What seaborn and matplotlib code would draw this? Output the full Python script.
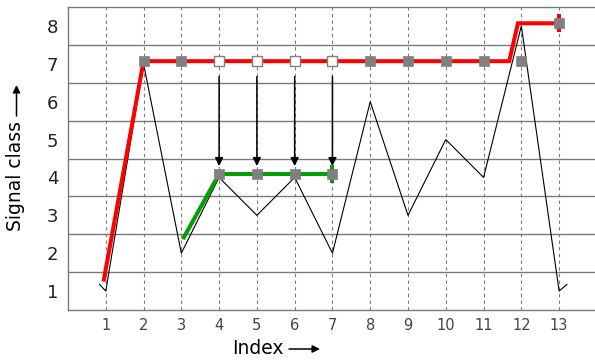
import matplotlib
matplotlib.use("Agg")
import matplotlib.pyplot as plt
import seaborn as sns

# ---- data ----
index_ticks = list(range(1, 14))
class_ticks = list(range(1, 9))

signal_x = [0.83, 1, 2, 3, 4, 5, 6, 7, 8, 9, 10, 11, 12, 13, 13.21]
signal_y = [1.18, 1, 7, 2, 4, 3, 4, 2, 6, 3, 5, 4, 8, 1, 1.18]

red_x = [0.94, 2, 11.68, 11.91, 13]
red_y = [1.25, 7.07, 7.07, 8.07, 8.07]
red_end_x = [13, 13]
red_end_y = [7.83, 8.31]

green_x = [3.04, 4, 7]
green_y = [2.37, 4.09, 4.09]
green_end_x = [7, 7]
green_end_y = [3.85, 4.33]

upper_gray_x = [2, 3, 8, 9, 10, 11, 12, 13]
upper_gray_y = [7.07, 7.07, 7.07, 7.07, 7.07, 7.07, 7.07, 8.07]
white_x = [4, 5, 6, 7]
white_y = [7.07, 7.07, 7.07, 7.07]
lower_gray_x = [4, 5, 6, 7]
lower_gray_y = [4.09, 4.09, 4.09, 4.09]
arrow_start_y = 6.66
arrow_end_y = 4.30

x_label = "Index"
y_label = "Signal class"

# ---- style ----
sns.set_theme(style="white")
plt.rcParams['font.family'] = ['DejaVu Sans']

W, H = 595, 360
fig = plt.figure(figsize=(W / 100, H / 100), dpi=100)
ax = fig.add_axes([68 / W, 50 / H, 1 - 68 / W, 303 / H])
ax.set_xlim(0, 13.95)
ax.set_ylim(0.5, 8.5)

gcol = "#7a7a7a"
ax.set_xticks(index_ticks)
ax.set_yticks(class_ticks)
ax.set_yticks([c + 0.5 for c in class_ticks[:-1]], minor=True)
ax.xaxis.grid(True, which='major', color=gcol, lw=0.8, linestyle=(0, (3, 3)))
ax.yaxis.grid(True, which='minor', color=gcol, lw=1.0, linestyle='-')
ax.yaxis.grid(False, which='major')
ax.set_axisbelow(True)

for side in ['left', 'bottom', 'top']:
    ax.spines[side].set_visible(True)
    ax.spines[side].set_color(gcol)
    ax.spines[side].set_linewidth(1.0)
ax.spines['right'].set_visible(False)

ax.tick_params(axis='both', which='both', length=0)
ax.tick_params(axis='x', labelsize=10.5, pad=6, labelcolor="#444444")
ax.tick_params(axis='y', labelsize=13, pad=7, labelcolor="#222222")

# signal (black)
sns.lineplot(x=signal_x, y=signal_y, sort=False, estimator=None, color='black',
             lw=0.8, ax=ax, zorder=3)

# red path
sns.lineplot(x=red_x, y=red_y, sort=False, estimator=None, color='#ff0000',
             lw=2.9, ax=ax, zorder=4, solid_capstyle='butt', solid_joinstyle='miter')
sns.lineplot(x=red_end_x, y=red_end_y, sort=False, estimator=None, color='#ff0000',
             lw=2.9, ax=ax, zorder=4, solid_capstyle='butt')

# green path
sns.lineplot(x=green_x, y=green_y, sort=False, estimator=None, color='#00a000',
             lw=2.9, ax=ax, zorder=4, solid_capstyle='butt', solid_joinstyle='miter')
sns.lineplot(x=green_end_x, y=green_end_y, sort=False, estimator=None, color='#00a000',
             lw=2.9, ax=ax, zorder=4, solid_capstyle='butt')

# arrows
for x in white_x:
    ax.annotate("", xy=(x, arrow_end_y), xytext=(x, arrow_start_y),
                arrowprops=dict(arrowstyle='-|>', color='black', lw=1.1,
                                mutation_scale=12, shrinkA=0, shrinkB=0),
                zorder=5)

# squares
sns.scatterplot(x=upper_gray_x, y=upper_gray_y, marker='s', s=44, color='#808080',
                edgecolor='#808080', linewidth=0.5, ax=ax, zorder=6)
sns.scatterplot(x=lower_gray_x, y=lower_gray_y, marker='s', s=44, color='#808080',
                edgecolor='#808080', linewidth=0.5, ax=ax, zorder=6)
sns.scatterplot(x=white_x, y=white_y, marker='s', s=44, color='white',
                edgecolor='#808080', linewidth=1.0, ax=ax, zorder=6)

ax.set_xlabel("")
ax.set_ylabel("")

# axis labels with TikZ-like arrows
fig.text(232 / W, 1 - 348 / H, x_label, ha='left', va='center',
         fontsize=13.5, color='black')
fig.add_artist(matplotlib.patches.FancyArrowPatch(
    (289 / W, 1 - 349 / H), (320 / W, 1 - 349 / H), transform=fig.transFigure,
    arrowstyle='-|>', mutation_scale=11, lw=1.1, color='black', shrinkA=0, shrinkB=0))

fig.text(16 / W, 1 - 231 / H, y_label, ha='center', va='bottom',
         rotation=90, fontsize=13.5, color='black')
fig.add_artist(matplotlib.patches.FancyArrowPatch(
    (16.5 / W, 1 - 116 / H), (16.5 / W, 1 - 85 / H), transform=fig.transFigure,
    arrowstyle='-|>', mutation_scale=11, lw=1.1, color='black', shrinkA=0, shrinkB=0))

fig.savefig("out.png", dpi=100)
